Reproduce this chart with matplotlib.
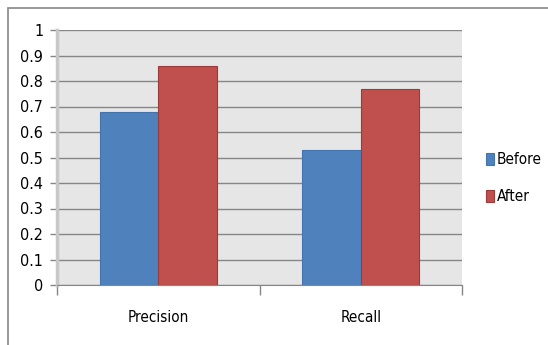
import matplotlib.pyplot as plt
import numpy as np
from matplotlib.patches import Rectangle

plt.rcParams['font.family'] = ['DejaVu Sans']
plt.rcParams['font.stretch'] = 'condensed'

categories = ['Precision', 'Recall']
before = [0.68, 0.53]
after = [0.86, 0.77]
yticks = [0, 0.1, 0.2, 0.3, 0.4, 0.5, 0.6, 0.7, 0.8, 0.9, 1]
ytick_labels = ['0', '0.1', '0.2', '0.3', '0.4', '0.5', '0.6', '0.7', '0.8', '0.9', '1']

fig = plt.figure(figsize=(5.48, 3.45), dpi=100)
ax = fig.add_axes([57 / 548, 1 - 285 / 345, 405 / 548, 255 / 345])
ax.set_facecolor('#e6e6e6')

x = np.arange(len(categories))
w = 0.289
ax.bar(x - w / 2, before, w, color='#4f81bd', edgecolor='#4474ae', linewidth=0.8,
       label='Before', zorder=3)
ax.bar(x + w / 2, after, w, color='#c0504d', edgecolor='#9a3c39', linewidth=0.8,
       label='After', zorder=3)

ax.set_xlim(-0.5, 1.5)
ax.set_ylim(0, 1)
ax.set_yticks(yticks)
ax.set_yticklabels(ytick_labels)
ax.yaxis.grid(True, color='#868686', linewidth=1.0, zorder=1)

# category axis: ticks between groups, labels centred under each group
ax.set_xticks([-0.5, 0.5, 1.5])
ax.set_xticklabels([])
ax.set_xticks(x, minor=True)
ax.set_xticklabels(categories, minor=True)
ax.tick_params(axis='x', which='major', length=7, direction='out', color='#868686', width=1)
ax.tick_params(axis='x', which='minor', length=0, pad=18, labelsize=11)
ax.tick_params(axis='y', length=5, direction='out', color='#868686', width=1,
               pad=5, labelsize=11.5)

for s in ['top', 'right']:
    ax.spines[s].set_visible(False)
ax.spines['bottom'].set_color('#868686')
ax.spines['bottom'].set_zorder(4)
ax.spines['left'].set_color('#c8c8c8')
ax.spines['left'].set_linewidth(2.5)

ax.legend(loc='center left', bbox_to_anchor=(1.025, 0.418), frameon=False,
          handlelength=0.5, handleheight=0.8, handletextpad=0.2,
          labelspacing=1.45, fontsize=11)

# chart border
fig.patches.append(Rectangle((8 / 548, -0.1), 1.2, 1 - 8 / 345 + 0.1,
                             transform=fig.transFigure, fill=False,
                             edgecolor='#868686', linewidth=1.2))

fig.savefig('out.png', dpi=100)
